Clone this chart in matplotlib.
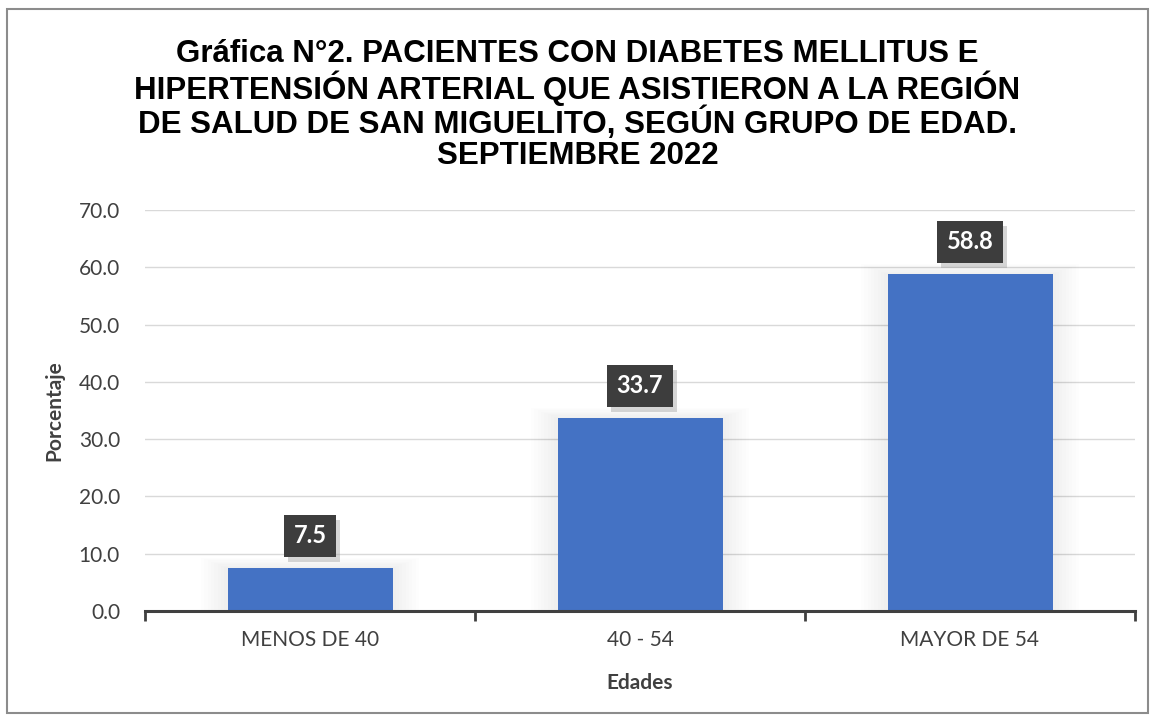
import matplotlib
matplotlib.use("Agg")
import matplotlib.pyplot as plt
import matplotlib.patheffects as pe
from matplotlib.patches import Rectangle

# --- Data ---
categories = ["MENOS DE 40", "40 - 54", "MAYOR DE 54"]
porcentajes = [7.5, 33.7, 58.8]
y_ticks = [0, 10, 20, 30, 40, 50, 60, 70]

title = ("Gráfica N°2. PACIENTES CON DIABETES MELLITUS E\n"
         "HIPERTENSIÓN ARTERIAL QUE ASISTIERON A LA REGIÓN\n"
         "DE SALUD DE SAN MIGUELITO, SEGÚN GRUPO DE EDAD.\n"
         "SEPTIEMBRE 2022")

W, H = 1155, 723
fig = plt.figure(figsize=(W / 100, H / 100), dpi=100)
ax = fig.add_axes([145 / W, 1 - 611 / H, 990 / W, 401 / H])

bar_color = "#4472C4"
x = list(range(len(categories)))

# soft glow behind bars
for i in range(1, 9):
    grow = 0.01 * i
    ax.bar(x, [v + grow * 22 for v in porcentajes], width=0.5 + grow * 2,
           color="black", alpha=0.009, zorder=2, linewidth=0)
ax.bar(x, porcentajes, width=0.5, color=bar_color, zorder=3, linewidth=0)

ax.set_xlim(-0.5, len(categories) - 0.5)
ax.set_ylim(0, 70)
ax.set_yticks(y_ticks)
ax.set_yticklabels([f"{t:.1f}" for t in y_ticks], fontfamily="Lato",
                   fontsize=15, color="#404040")
ax.grid(axis="y", color="#d9d9d9", linewidth=1, zorder=0)
ax.set_axisbelow(True)

ax.set_xticks(x)
ax.set_xticklabels(categories, fontfamily="Lato", fontsize=15, color="#404040")
ax.tick_params(axis="x", length=0, pad=14)
ax.tick_params(axis="y", length=0, pad=18)
# category boundary ticks
ax.set_xticks([-0.5, 0.5, 1.5, 2.5], minor=True)
ax.tick_params(axis="x", which="minor", length=7, width=2, color="#404040",
               direction="out")

for s in ["top", "right", "left"]:
    ax.spines[s].set_visible(False)
ax.spines["bottom"].set_color("#404040")
ax.spines["bottom"].set_linewidth(2.2)
ax.spines["bottom"].set_zorder(4)

for xi, v in zip(x, porcentajes):
    ax.annotate(f"{v:.1f}", (xi, v), xytext=(0, 15), textcoords="offset points",
                ha="center", va="bottom", fontfamily="Lato", fontweight="bold",
                fontsize=17, color="white", zorder=6,
                bbox=dict(boxstyle="square,pad=0.4", facecolor="#3d3d3d",
                          edgecolor="none",
                          path_effects=[pe.withSimplePatchShadow(
                              offset=(3, -4), shadow_rgbFace="#9a9a9a", alpha=0.4)]))

ax.set_ylabel("Porcentaje", fontfamily="Lato", fontweight="bold", fontsize=15,
              color="#404040", labelpad=10)
ax.set_xlabel("Edades", fontfamily="Lato", fontweight="bold", fontsize=15,
              color="#404040", labelpad=16)

fig.text(0.5, 1 - 105 / H, title, ha="center", va="center",
         fontfamily="Liberation Sans", fontweight="bold", fontsize=22.5,
         linespacing=1.03, color="black")

fig.patches.append(Rectangle((7 / W, 1 - 713 / H), 1141 / W, 704 / H,
                             transform=fig.transFigure, fill=False,
                             edgecolor="#8c8c8c", linewidth=1.5))

fig.savefig("out.png", dpi=100)
